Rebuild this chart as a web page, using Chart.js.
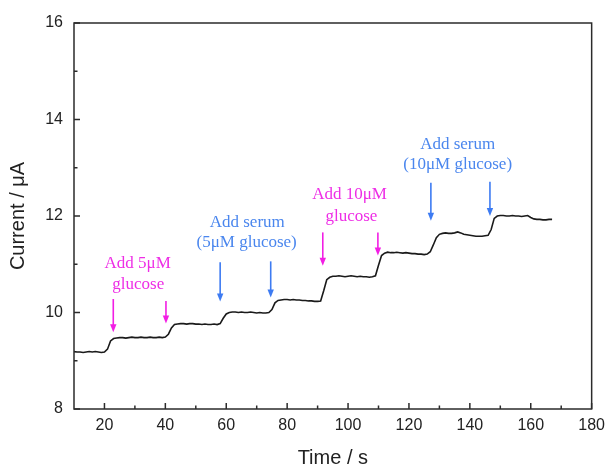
<!DOCTYPE html>
<html>
<head>
<meta charset="utf-8">
<script src="https://cdn.jsdelivr.net/npm/chart.js@4/dist/chart.umd.min.js"></script>
<style>
  html, body { margin: 0; padding: 0; background: #fff; }
  #wrap { width: 612px; height: 470px; position: relative; }
</style>
</head>
<body>
<div id="wrap"><canvas id="c" width="612" height="470"></canvas></div>
<script>
// ---- data ----
const times = [10,11,12,13,14,15,16,17,18,19,20,21,22,23,24,25,26,27,28,29,30,31,32,33,34,35,36,37,38,39,
40,41,42,43,44,45,46,47,48,49,50,51,52,53,54,55,56,57,58,59,60,61,62,63,64,65,66,67,68,69,
70,71,72,73,74,75,76,77,78,79,80,81,82,83,84,85,86,87,88,89,90,91,92,93,94,95,96,97,98,99,
100,101,102,103,104,105,106,107,108,109,110,111,112,113,114,115,116,117,118,119,120,121,122,123,124,125,126,127,128,129,
130,131,132,133,134,135,136,137,138,139,140,141,142,143,144,145,146,147,148,149,150,151,152,153,154,155,156,157,158,159,
160,161,162,163,164,165,166,167];
const current = [9.19,9.18,9.18,9.17,9.18,9.19,9.18,9.19,9.18,9.17,9.18,9.24,9.41,9.46,9.47,9.48,9.48,9.47,9.48,9.49,
9.48,9.48,9.49,9.48,9.48,9.49,9.48,9.48,9.49,9.48,9.49,9.55,9.68,9.75,9.76,9.77,9.77,9.76,9.77,9.77,
9.76,9.76,9.75,9.76,9.75,9.75,9.76,9.75,9.77,9.88,9.97,10.00,10.01,10.01,10.00,10.01,10.00,10.00,10.01,10.00,
9.99,10.00,9.99,9.99,10.00,10.06,10.20,10.25,10.26,10.27,10.27,10.26,10.27,10.26,10.26,10.25,10.25,10.24,10.24,10.23,
10.23,10.24,10.45,10.68,10.73,10.75,10.75,10.76,10.75,10.74,10.75,10.76,10.75,10.74,10.75,10.74,10.74,10.73,10.74,10.76,
10.98,11.18,11.23,11.25,11.24,11.24,11.25,11.24,11.23,11.24,11.23,11.22,11.22,11.21,11.21,11.20,11.21,11.26,11.40,11.55,
11.62,11.64,11.65,11.64,11.64,11.65,11.67,11.65,11.62,11.61,11.60,11.59,11.58,11.58,11.58,11.59,11.60,11.72,11.95,12.00,
12.01,12.01,12.00,12.00,12.01,12.00,12.00,11.99,12.00,12.01,11.97,11.94,11.93,11.93,11.92,11.92,11.93,11.93];

const xMajorTicks = [20,40,60,80,100,120,140,160,180];
const xMinorTicks = [30,50,70,90,110,130,150,170];
const yMajorTicks = [8,10,12,14,16];
const yMinorTicks = [9,11,13,15];

// annotation arrows (time, from value, to value, kind)
const arrowTimes = [22.9, 40.2, 58.0, 74.6, 91.7, 109.8, 127.2, 146.6];
const arrowFrom  = [10.28, 10.24, 11.04, 11.06, 11.66, 11.66, 12.69, 12.71];
const arrowTo    = [9.59, 9.77, 10.23, 10.31, 10.97, 11.18, 11.90, 12.00];
const arrowKind  = ['glucose','glucose','serum','serum','glucose','glucose','serum','serum'];
// annotation texts
const noteText  = ['Add 5\u03bcM','glucose','Add serum','(5\u03bcM glucose)','Add 10\u03bcM','glucose','Add serum','(10\u03bcM glucose)'];
const noteTime  = [30.9, 31.1, 66.9, 66.7, 100.5, 101.1, 136.0, 136.0];
const noteValue = [11.01, 10.57, 11.87, 11.44, 12.44, 11.99, 13.49, 13.06];
const noteKind  = ['glucose','glucose','serum','serum','glucose','glucose','serum','serum'];

// ---- styles ----
const kindColor = { glucose: '#f21ee4', serum: '#3d7bf2' };
const kindTextColor = { glucose: '#ee2ee6', serum: '#4a86ee' };
const AXIS = '#2b2b2b';

const framePlugin = {
  id: 'framePlugin',
  afterDatasetsDraw(chart) {
    const { ctx, chartArea: a, scales: { x, y } } = chart;
    ctx.save();
    // annotations: arrows
    arrowTimes.forEach((t, i) => {
      const px = x.getPixelForValue(t);
      const y0 = y.getPixelForValue(arrowFrom[i]);
      const y1 = y.getPixelForValue(arrowTo[i]);
      ctx.strokeStyle = kindColor[arrowKind[i]];
      ctx.fillStyle = kindColor[arrowKind[i]];
      ctx.lineWidth = 1.6;
      ctx.beginPath();
      ctx.moveTo(px, y0);
      ctx.lineTo(px, y1 - 6);
      ctx.stroke();
      ctx.beginPath();
      ctx.moveTo(px - 3.2, y1 - 8);
      ctx.lineTo(px + 3.2, y1 - 8);
      ctx.lineTo(px, y1);
      ctx.closePath();
      ctx.fill();
    });
    // annotation texts
    ctx.font = '17px "Liberation Serif", "Times New Roman", serif';
    ctx.textAlign = 'center';
    ctx.textBaseline = 'middle';
    noteText.forEach((s, i) => {
      ctx.fillStyle = kindTextColor[noteKind[i]];
      ctx.fillText(s, x.getPixelForValue(noteTime[i]), y.getPixelForValue(noteValue[i]));
    });
    ctx.restore();
  },
  afterDraw(chart) {
    const { ctx, chartArea: a, scales: { x, y } } = chart;
    ctx.save();
    ctx.strokeStyle = AXIS;
    ctx.lineWidth = 1.5;
    ctx.strokeRect(a.left, a.top, a.right - a.left, a.bottom - a.top);
    ctx.beginPath();
    xMajorTicks.forEach(v => { const p = x.getPixelForValue(v); ctx.moveTo(p, a.bottom); ctx.lineTo(p, a.bottom - 6); });
    xMinorTicks.forEach(v => { const p = x.getPixelForValue(v); ctx.moveTo(p, a.bottom); ctx.lineTo(p, a.bottom - 3.5); });
    yMajorTicks.forEach(v => { const p = y.getPixelForValue(v); ctx.moveTo(a.left, p); ctx.lineTo(a.left + 6, p); });
    yMinorTicks.forEach(v => { const p = y.getPixelForValue(v); ctx.moveTo(a.left, p); ctx.lineTo(a.left + 3.5, p); });
    ctx.stroke();
    ctx.restore();
  }
};

new Chart(document.getElementById('c'), {
  type: 'line',
  data: {
    datasets: [{
      data: times.map((t, i) => ({ x: t, y: current[i] })),
      borderColor: '#1a1a1a',
      borderWidth: 1.6,
      pointRadius: 0,
      tension: 0,
      fill: false
    }]
  },
  options: {
    responsive: false,
    animation: false,
    devicePixelRatio: 1,
    layout: { padding: { top: 23, right: 19, left: 0, bottom: 0 } },
    plugins: { legend: { display: false }, tooltip: { enabled: false } },
    scales: {
      x: {
        type: 'linear',
        min: 10, max: 180,
        afterBuildTicks: s => { s.ticks = xMajorTicks.map(v => ({ value: v })); },
        afterFit: s => { s.height = 61; },
        grid: { display: false, drawTicks: false },
        border: { display: false },
        ticks: { color: '#222', padding: 7, maxRotation: 0, autoSkip: false,
          font: { family: '"Liberation Sans", Arial, sans-serif', size: 16 } },
        title: { display: true, text: 'Time / s', color: '#222', padding: { top: 0, bottom: 0 },
          font: { family: '"Liberation Sans", Arial, sans-serif', size: 20 } }
      },
      y: {
        type: 'linear',
        min: 8, max: 16,
        afterBuildTicks: s => { s.ticks = yMajorTicks.map(v => ({ value: v })); },
        afterFit: s => { s.width = 74; },
        grid: { display: false, drawTicks: false },
        border: { display: false },
        ticks: { color: '#222', padding: 11,
          font: { family: '"Liberation Sans", Arial, sans-serif', size: 16 } },
        title: { display: true, text: 'Current / \u03bcA', color: '#222', padding: { top: 6, bottom: 0 },
          font: { family: '"Liberation Sans", Arial, sans-serif', size: 20 } }
      }
    }
  },
  plugins: [framePlugin]
});
</script>
</body>
</html>
